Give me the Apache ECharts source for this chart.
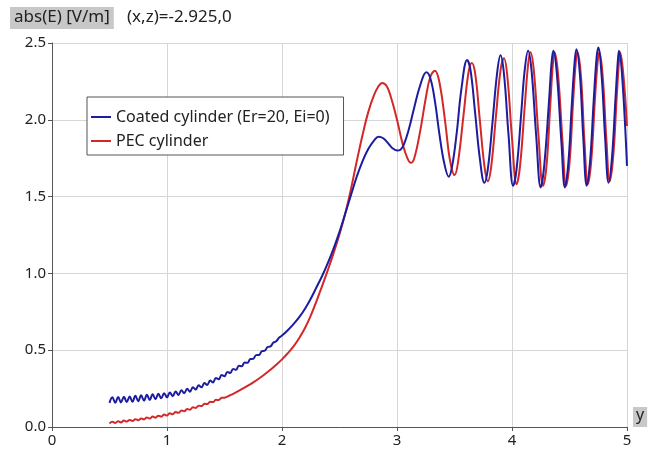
<!DOCTYPE html>
<html>
<head>
<meta charset="utf-8">
<script src="https://cdn.jsdelivr.net/npm/echarts@6/dist/echarts.min.js"></script>
<style>
  html, body { margin: 0; padding: 0; background: #fff; }
  #main { width: 664px; height: 459px; }
</style>
</head>
<body>
<div id="main"></div>
<script>
// Coated cylinder (Er=20, Ei=0) : [y, abs(E)]
var coated = [
  [0.500,0.157],[0.525,0.194],[0.550,0.158],[0.575,0.195],[0.600,0.160],[0.625,0.197],
  [0.650,0.162],[0.675,0.199],[0.700,0.165],[0.725,0.203],[0.750,0.168],[0.775,0.206],
  [0.800,0.172],[0.825,0.210],[0.850,0.176],[0.875,0.213],[0.900,0.181],[0.925,0.216],
  [0.950,0.187],[0.975,0.220],[1.000,0.193],[1.025,0.225],[1.050,0.201],[1.075,0.231],
  [1.100,0.209],[1.125,0.240],[1.150,0.220],[1.175,0.249],[1.200,0.230],[1.225,0.259],
  [1.250,0.244],[1.275,0.272],[1.300,0.258],[1.325,0.286],[1.350,0.274],[1.375,0.302],
  [1.400,0.290],[1.425,0.319],[1.450,0.311],[1.475,0.339],[1.500,0.331],[1.525,0.358],
  [1.550,0.352],[1.575,0.378],[1.600,0.372],[1.625,0.398],[1.650,0.395],[1.675,0.420],
  [1.700,0.418],[1.725,0.443],[1.750,0.444],[1.775,0.468],[1.800,0.469],[1.825,0.494],
  [1.850,0.497],[1.875,0.521],[1.900,0.525],[1.925,0.550],[1.950,0.558],[1.975,0.582],
  [2.00,0.595],[2.05,0.63],[2.10,0.67],[2.15,0.715],[2.20,0.77],[2.25,0.835],[2.30,0.91],
  [2.35,0.985],[2.40,1.07],[2.45,1.165],[2.50,1.27],[2.55,1.39],[2.60,1.51],[2.65,1.63],
  [2.70,1.73],[2.75,1.81],[2.80,1.865],[2.84,1.89],[2.88,1.88],[2.92,1.85],[2.96,1.815],
  [3.00,1.80],[3.03,1.805],[3.06,1.84],[3.10,1.93],[3.15,2.08],[3.20,2.22],[3.255,2.31],
  [3.29,2.27],[3.33,2.12],[3.37,1.90],[3.41,1.72],[3.45,1.63],[3.48,1.70],[3.52,1.92],
  [3.56,2.20],[3.61,2.39],[3.64,2.32],[3.68,2.04],[3.72,1.75],[3.76,1.59],[3.79,1.68],
  [3.83,1.98],[3.87,2.30],[3.90,2.42],[3.93,2.30],[3.97,1.90],[4.01,1.57],[4.04,1.68],
  [4.08,2.04],[4.11,2.32],[4.14,2.45],[4.17,2.32],[4.21,1.90],[4.25,1.56],[4.28,1.70],
  [4.32,2.10],[4.345,2.38],[4.36,2.45],[4.39,2.30],[4.43,1.85],[4.46,1.56],[4.49,1.72],
  [4.52,2.10],[4.545,2.38],[4.56,2.46],[4.59,2.30],[4.62,1.88],[4.65,1.57],[4.68,1.74],
  [4.71,2.12],[4.735,2.40],[4.75,2.47],[4.78,2.28],[4.81,1.88],[4.84,1.59],[4.87,1.76],
  [4.90,2.14],[4.92,2.38],[4.93,2.45],[4.96,2.26],[5.00,1.70]
];
// PEC cylinder : [y, abs(E)]
var pec = [
  [0.500,0.023],[0.525,0.034],[0.550,0.026],[0.575,0.037],[0.600,0.030],[0.625,0.042],
  [0.650,0.035],[0.675,0.046],[0.700,0.039],[0.725,0.051],[0.750,0.044],[0.775,0.056],
  [0.800,0.049],[0.825,0.062],[0.850,0.055],[0.875,0.068],[0.900,0.061],[0.925,0.074],
  [0.950,0.067],[0.975,0.081],[1.000,0.075],[1.025,0.089],[1.050,0.083],[1.075,0.097],
  [1.100,0.092],[1.125,0.107],[1.150,0.102],[1.175,0.117],[1.200,0.113],[1.225,0.128],
  [1.250,0.124],[1.275,0.139],[1.300,0.136],[1.325,0.151],[1.350,0.149],[1.375,0.164],
  [1.400,0.162],[1.425,0.177],[1.450,0.176],[1.475,0.190],[1.500,0.191],
  [1.55,0.207],[1.60,0.226],[1.65,0.246],[1.70,0.268],[1.75,0.291],[1.80,0.316],
  [1.85,0.343],[1.90,0.373],[1.95,0.405],[2.00,0.44],[2.05,0.48],[2.10,0.525],
  [2.15,0.58],[2.20,0.645],[2.25,0.725],[2.30,0.82],[2.35,0.92],[2.40,1.025],
  [2.45,1.135],[2.50,1.255],[2.55,1.39],[2.60,1.55],[2.65,1.73],[2.70,1.90],
  [2.75,2.05],[2.80,2.16],[2.84,2.22],[2.87,2.24],[2.91,2.22],[2.95,2.14],[3.00,2.00],
  [3.05,1.84],[3.09,1.75],[3.12,1.72],[3.15,1.75],[3.20,1.92],[3.25,2.14],[3.29,2.28],
  [3.33,2.32],[3.37,2.24],[3.42,1.98],[3.46,1.74],[3.50,1.64],[3.53,1.72],[3.58,2.04],
  [3.62,2.30],[3.65,2.37],[3.68,2.30],[3.72,2.00],[3.76,1.70],[3.79,1.60],[3.82,1.70],
  [3.86,2.02],[3.90,2.32],[3.93,2.40],[3.96,2.28],[4.00,1.88],[4.04,1.58],[4.07,1.70],
  [4.11,2.08],[4.14,2.36],[4.16,2.44],[4.19,2.32],[4.23,1.90],[4.27,1.57],[4.30,1.70],
  [4.33,2.06],[4.355,2.36],[4.37,2.44],[4.40,2.30],[4.44,1.85],[4.47,1.57],[4.50,1.72],
  [4.53,2.10],[4.555,2.38],[4.57,2.44],[4.60,2.28],[4.63,1.86],[4.66,1.58],[4.69,1.74],
  [4.72,2.12],[4.745,2.38],[4.76,2.44],[4.79,2.27],[4.82,1.88],[4.85,1.60],[4.88,1.76],
  [4.91,2.14],[4.93,2.38],[4.94,2.44],[4.97,2.28],[5.00,1.96]
];
var seriesNames = ['Coated cylinder (Er=20, Ei=0)', 'PEC cylinder'];
var seriesColors = ['#1c1ca0', '#d42828'];

var font = 'Noto Sans';
var chart = echarts.init(document.getElementById('main'));
chart.setOption({
  animation: false,
  textStyle: { fontFamily: font },
  title: [
    {
      text: 'abs(E) [V/m]', left: 10, top: 7,
      backgroundColor: '#c8c8c8', padding: [1, 4, 2, 4],
      textStyle: { fontFamily: font, fontSize: 17, fontWeight: 'normal', color: '#222', lineHeight: 19 }
    },
    {
      text: '(x,z)=-2.925,0', left: 127, top: 8, padding: 0,
      textStyle: { fontFamily: font, fontSize: 17, fontWeight: 'normal', color: '#222', lineHeight: 19 }
    }
  ],
  legend: {
    orient: 'vertical', left: 87, top: 97,
    padding: [11, 14, 5, 4], itemGap: 6,
    borderColor: '#555', borderWidth: 1, backgroundColor: '#fff',
    itemWidth: 20, itemHeight: 2, icon: 'rect',
    textStyle: { fontFamily: font, fontSize: 16, color: '#222', lineHeight: 18 },
    data: seriesNames
  },
  grid: { left: 52, right: 37, top: 43, bottom: 32 },
  xAxis: {
    type: 'value', min: 0, max: 5, interval: 1,
    name: 'y', nameLocation: 'end', nameGap: 6,
    nameTextStyle: {
      fontFamily: font, fontSize: 16, color: '#222', backgroundColor: '#c8c8c8',
      padding: [0, 3, 4, 3], verticalAlign: 'bottom'
    },
    axisLine: { lineStyle: { color: '#555', width: 1 } },
    axisTick: { show: true, length: 4, lineStyle: { color: '#555' } },
    axisLabel: { fontFamily: font, fontSize: 15, color: '#222', margin: 6 },
    splitLine: { show: true, lineStyle: { color: '#d6d6d6', width: 1 } }
  },
  yAxis: {
    type: 'value', min: 0, max: 2.5, interval: 0.5,
    axisLine: { show: true, lineStyle: { color: '#555', width: 1 } },
    axisTick: { show: true, length: 4, lineStyle: { color: '#555' } },
    axisLabel: {
      fontFamily: font, fontSize: 15, color: '#222', margin: 6,
      formatter: function (v) { return v.toFixed(1); }
    },
    splitLine: { show: true, lineStyle: { color: '#d6d6d6', width: 1 } }
  },
  series: [
    {
      name: seriesNames[0], type: 'line', data: coated, showSymbol: false, smooth: 0.4,
      lineStyle: { color: seriesColors[0], width: 2 }, itemStyle: { color: seriesColors[0] }, z: 3
    },
    {
      name: seriesNames[1], type: 'line', data: pec, showSymbol: false, smooth: 0.4,
      lineStyle: { color: seriesColors[1], width: 2 }, itemStyle: { color: seriesColors[1] }, z: 2
    }
  ]
});
</script>
</body>
</html>
